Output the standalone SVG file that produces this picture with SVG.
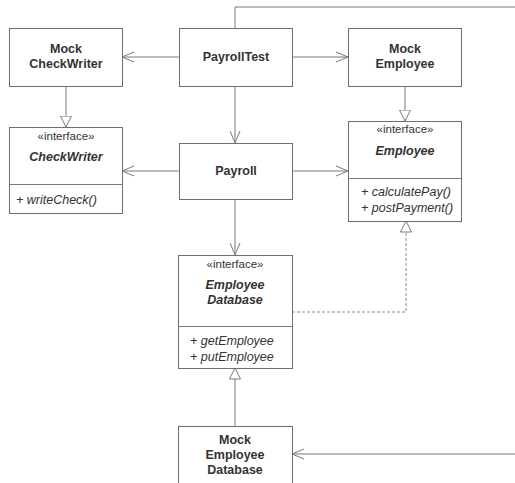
<svg xmlns="http://www.w3.org/2000/svg" width="515" height="483" viewBox="0 0 515 483">
<style>
.box{fill:#fff;stroke:#6e6e6e;stroke-width:1}
.ln{fill:none;stroke:#7a7a7a;stroke-width:1}
.dash{fill:none;stroke:#8a8a8a;stroke-width:1;stroke-dasharray:3,2}
text{font-family:"Liberation Sans",Arial,sans-serif;fill:#333;text-anchor:middle}
.b{font-weight:bold;font-size:12.5px}
.bi{font-weight:bold;font-style:italic;font-size:12.5px}
.st{font-size:11.5px}
.op{font-style:italic;font-size:12.5px;text-anchor:start}
</style>
<defs>
<marker id="open" viewBox="0 0 12 12" refX="12" refY="6" markerWidth="12" markerHeight="12" markerUnits="userSpaceOnUse" orient="auto">
<path d="M0,1 L12,6 L0,11" fill="none" stroke="#7a7a7a" stroke-width="1"/>
</marker>
<marker id="tri" viewBox="0 0 12 12" refX="11.5" refY="6" markerWidth="12" markerHeight="12" markerUnits="userSpaceOnUse" orient="auto">
<path d="M0.5,0.5 L11.5,6 L0.5,11.5 Z" fill="#fff" stroke="#7a7a7a" stroke-width="1"/>
</marker>
</defs>
<rect width="515" height="483" fill="#fff"/>
<g id="connectors">
<path class="ln" d="M235,28 V7 H515"/>
<path class="ln" d="M179,57 H122" marker-end="url(#open)"/>
<path class="ln" d="M292,57 H348" marker-end="url(#open)"/>
<path class="ln" d="M235,86 V143" marker-end="url(#open)"/>
<path class="ln" d="M179,171 H122" marker-end="url(#open)"/>
<path class="ln" d="M292,171 H348" marker-end="url(#open)"/>
<path class="ln" d="M235,199 V255" marker-end="url(#open)"/>
<path class="ln" d="M66,86 V127" marker-end="url(#tri)"/>
<path class="ln" d="M405,86 V121" marker-end="url(#tri)"/>
<path class="ln" d="M235,426 V368" marker-end="url(#tri)"/>
<path class="ln" d="M515,454 H292" marker-end="url(#open)"/>
<path class="dash" d="M292,312 H406 V221" marker-end="url(#tri)"/>
</g>
<g id="MockCheckWriter">
<rect class="box" x="9.5" y="28.5" width="113" height="58"/>
<text class="b" x="66" y="53">Mock</text>
<text class="b" x="66" y="68">CheckWriter</text>
</g>
<g id="PayrollTest">
<rect class="box" x="179.5" y="28.5" width="113" height="58"/>
<text class="b" x="236" y="61">PayrollTest</text>
</g>
<g id="MockEmployee">
<rect class="box" x="348.5" y="28.5" width="113" height="58"/>
<text class="b" x="405" y="53">Mock</text>
<text class="b" x="405" y="68">Employee</text>
</g>
<g id="CheckWriter">
<rect class="box" x="9.5" y="127.5" width="113" height="86"/>
<line class="ln" x1="9.5" y1="184.5" x2="122.5" y2="184.5"/>
<text class="st" x="66" y="140">«interface»</text>
<text class="bi" x="66" y="161">CheckWriter</text>
<text class="op" x="16" y="204">+ writeCheck()</text>
</g>
<g id="Payroll">
<rect class="box" x="179.5" y="143.5" width="113" height="56"/>
<text class="b" x="236" y="175">Payroll</text>
</g>
<g id="Employee">
<rect class="box" x="348.5" y="121.5" width="113" height="100"/>
<line class="ln" x1="348.5" y1="178.5" x2="461.5" y2="178.5"/>
<text class="st" x="405" y="133">«interface»</text>
<text class="bi" x="405" y="155">Employee</text>
<text class="op" x="361" y="196">+ calculatePay()</text>
<text class="op" x="361" y="212">+ postPayment()</text>
</g>
<g id="EmployeeDatabase">
<rect class="box" x="178.5" y="255.5" width="114" height="113"/>
<line class="ln" x1="178.5" y1="326.5" x2="292.5" y2="326.5"/>
<text class="st" x="235" y="268">«interface»</text>
<text class="bi" x="235" y="289">Employee</text>
<text class="bi" x="235" y="304">Database</text>
<text class="op" x="190" y="345">+ getEmployee</text>
<text class="op" x="190" y="361">+ putEmployee</text>
</g>
<g id="MockEmployeeDatabase">
<rect class="box" x="178.5" y="426.5" width="114" height="60"/>
<text class="b" x="235" y="444">Mock</text>
<text class="b" x="235" y="459">Employee</text>
<text class="b" x="235" y="474">Database</text>
</g>
</svg>
